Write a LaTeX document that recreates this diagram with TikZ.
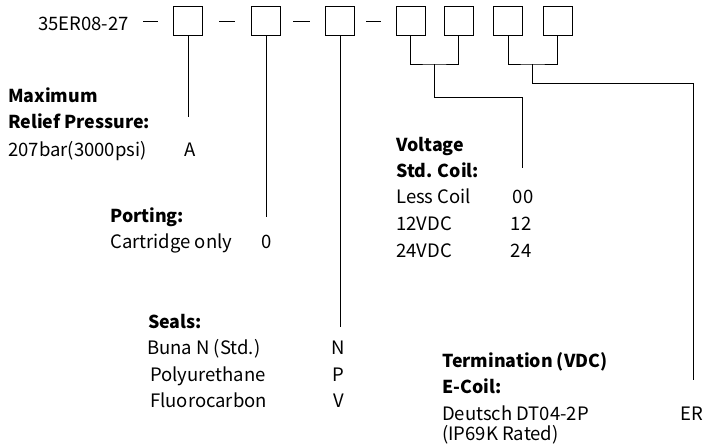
\documentclass[tikz,border=0pt]{standalone}
\usepackage{fontspec}
\setmainfont{Noto Sans CJK SC}
\begin{document}
\begin{tikzpicture}[x=1pt,y=-1pt,
  txt/.style={inner sep=0pt,anchor=base west,font=\fontsize{18.5}{22}\selectfont},
  hd/.style={txt,font=\fontsize{17.8}{22}\selectfont\bfseries},
  code/.style={inner sep=0pt,anchor=base,font=\fontsize{18.5}{22}\selectfont},
  slot/.style={draw,line width=1pt,minimum width=29pt,minimum height=29pt,inner sep=0pt},
  ln/.style={line width=1pt}]
\useasboundingbox (0,0) rectangle (705,445);
% header
\node[txt] (pn) at (38,30) {35ER08-27};
\node[slot] (b1) at (188,21) {};
\node[slot] (b2) at (266,21) {};
\node[slot] (b3) at (340,21) {};
\node[slot] (b4) at (410.5,21) {};
\node[slot] (b5) at (458.5,21) {};
\node[slot] (b6) at (508,21) {};
\node[slot] (b7) at (557.5,21) {};
\coordinate (d1a) at (143,21); \coordinate (d1b) at (158,21);
\coordinate (d2a) at (219,21); \coordinate (d2b) at (235,21);
\coordinate (d3a) at (293,21); \coordinate (d3b) at (310,21);
\coordinate (d4a) at (366,21); \coordinate (d4b) at (381,21);
\draw[ln] (d1a) -- (d1b) (d2a) -- (d2b) (d3a) -- (d3b) (d4a) -- (d4b);
% connector endpoints
\coordinate (e1) at (188,117);
\coordinate (e2) at (266,217);
\coordinate (e3) at (340,327);
\coordinate (j45) at (434.5,64);
\coordinate (e45) at (522,168);
\coordinate (j67) at (532.75,64);
\coordinate (e67) at (693,380);
\draw[ln] (b1.south) -- (e1);
\draw[ln] (b2.south) -- (e2);
\draw[ln] (b3.south) -- (e3);
\draw[ln] (b4.south) |- (j45) -| (b5.south);
\draw[ln] (j45) |- (434.5,97) -| (e45);
\draw[ln] (b6.south) |- (j67) -| (b7.south);
\draw[ln] (j67) |- (532.75,83) -| (e67);
% pressure
\node[hd] (h1a) at (8,102) {Maximum};
\node[hd] (h1b) at (8,128) {Relief Pressure:};
\node[txt] (t1) at (8,156) {207bar(3000psi)};
\node[code] (c1) at (190,156) {A};
% porting
\node[hd] (h2) at (110,222) {Porting:};
\node[txt] (t2) at (110,248) {Cartridge only};
\node[code] (c2) at (267,248) {0};
% voltage
\node[hd] (h3a) at (396,151) {Voltage};
\node[hd] (h3b) at (396,177) {Std. Coil:};
\node[txt] (t3a) at (396,203) {Less Coil};
\node[code] (c3a) at (523,203) {00};
\node[txt] (t3b) at (396,230) {12VDC};
\node[code] (c3b) at (521,230) {12};
\node[txt] (t3c) at (396,257) {24VDC};
\node[code] (c3c) at (521,257) {24};
% seals
\node[hd] (h4) at (148,328) {Seals:};
\node[txt] (t4a) at (147,354) {Buna N (Std.)};
\node[code] (c4a) at (338.5,354) {N};
\node[txt] (t4b) at (150,381) {Polyurethane};
\node[code] (c4b) at (338.5,381) {P};
\node[txt] (t4c) at (150,407) {Fluorocarbon};
\node[code] (c4c) at (338.5,407) {V};
% termination
\node[hd] (h5a) at (442,367) {Termination (VDC)};
\node[hd] (h5b) at (442,393) {E-Coil:};
\node[txt] (t5a) at (442,420) {Deutsch DT04-2P};
\node[code,anchor=base east] (c5) at (703,420) {ER};
\node[txt] (t5b) at (442,440) {(IP69K Rated)};
\end{tikzpicture}
\end{document}
